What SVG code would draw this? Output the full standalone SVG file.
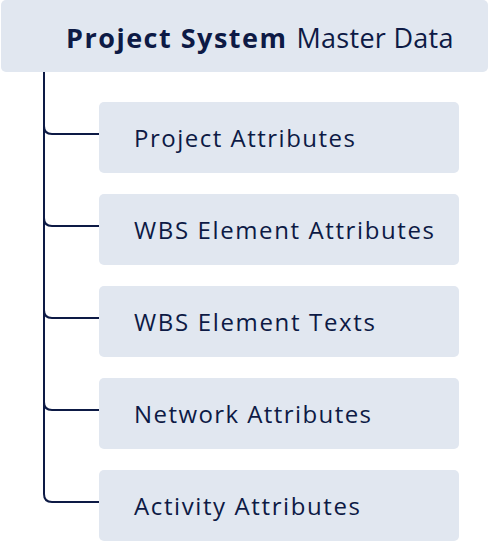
<svg xmlns="http://www.w3.org/2000/svg" width="489" height="543" viewBox="0 0 489 543">
<style>
.box{fill:#e1e7f0}
.t{font-family:"Open Sans",Inter,"Liberation Sans",sans-serif;font-size:24px;fill:#0d1a45}
.h{font-size:27px}
.c{fill:none;stroke:#0d1a45;stroke-width:2}
</style>
<g id="header">
<rect class="box" x="1" y="0" width="487" height="72" rx="5"/>
<text class="t h" x="66" y="48"><tspan font-weight="700" textLength="220">Project System</tspan><tspan dx="9" textLength="157">Master Data</tspan></text>
</g>
<g id="connectors">
<path class="c" d="M44,72 V494 Q44,502 52,502 H99"/>
<path class="c" d="M44,126 Q44,134 52,134 H99"/>
<path class="c" d="M44,218 Q44,226 52,226 H99"/>
<path class="c" d="M44,310 Q44,318 52,318 H99"/>
<path class="c" d="M44,402 Q44,410 52,410 H99"/>
</g>
<g id="n1"><rect class="box" x="99" y="102" width="360" height="71" rx="5"/><text class="t" x="134" y="147" textLength="221">Project Attributes</text></g>
<g id="n2"><rect class="box" x="99" y="194" width="360" height="71" rx="5"/><text class="t" x="134" y="239" textLength="300">WBS Element Attributes</text></g>
<g id="n3"><rect class="box" x="99" y="286" width="360" height="71" rx="5"/><text class="t" x="134" y="331" textLength="241">WBS Element Texts</text></g>
<g id="n4"><rect class="box" x="99" y="378" width="360" height="71" rx="5"/><text class="t" x="134" y="423" textLength="237">Network Attributes</text></g>
<g id="n5"><rect class="box" x="99" y="470" width="360" height="71" rx="5"/><text class="t" x="134" y="515" textLength="226">Activity Attributes</text></g>
</svg>
